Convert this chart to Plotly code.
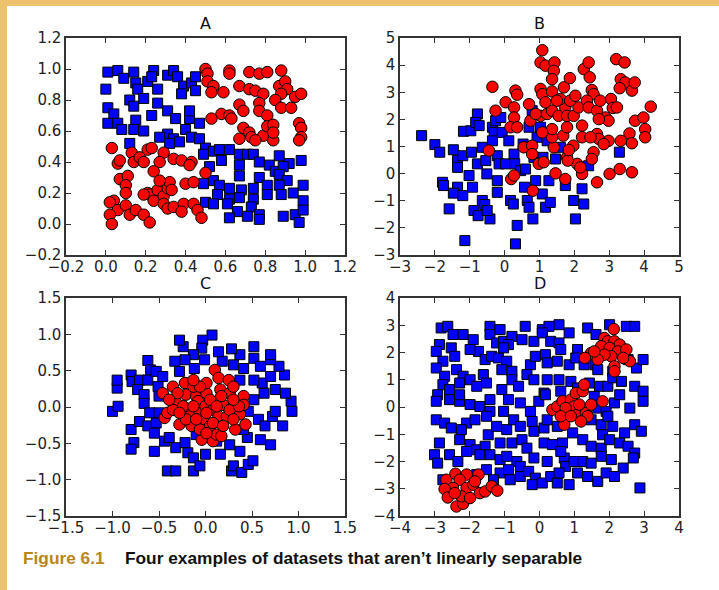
import plotly.graph_objects as go

# ---------------- Data ----------------
A_blue_x = [0.01,0.06,0.09,0.14,0.15,0.16,0.0,0.21,0.24,0.23,0.26,0.31,0.34,0.36,0.39,0.38,0.43,0.45,0.45,
            0.12,0.14,0.19,0.26,0.01,0.04,0.01,0.06,0.08,0.15,0.14,0.19,0.23,0.31,0.35,0.42,0.42,0.47,0.40,
            0.31,0.27,0.34,0.37,0.43,0.47,0.32,0.12,0.50,0.49,
            0.54,0.57,0.62,0.67,0.71,0.74,0.87,0.92,0.98,0.52,0.58,0.67,0.67,0.77,0.77,0.82,0.85,0.89,0.87,
            0.91,0.54,0.49,0.57,0.62,0.68,0.74,0.81,0.87,0.99,0.56,0.62,0.67,0.74,0.81,0.88,0.94,0.99,0.50,
            0.54,0.61,0.73,0.66,0.71,0.77,0.62,0.77,0.89,0.95,0.97,0.99]
A_blue_y = [0.98,0.99,0.94,0.98,0.91,0.87,0.87,0.92,0.99,0.95,0.87,0.96,0.99,0.95,0.89,0.84,0.91,0.95,0.86,
            0.80,0.76,0.81,0.78,0.75,0.71,0.65,0.65,0.61,0.67,0.61,0.60,0.70,0.73,0.68,0.68,0.73,0.65,0.61,
            0.58,0.56,0.55,0.53,0.56,0.55,0.52,0.52,0.49,0.45,
            0.47,0.48,0.48,0.45,0.45,0.45,0.44,0.39,0.41,0.37,0.41,0.38,0.31,0.40,0.30,0.38,0.34,0.37,0.32,
            0.28,0.28,0.26,0.25,0.23,0.22,0.23,0.25,0.25,0.25,0.19,0.16,0.17,0.16,0.19,0.19,0.20,0.15,0.14,
            0.13,0.13,0.11,0.08,0.05,0.06,0.04,0.03,0.05,0.06,0.01,0.09]
A_red_x = [0.50,0.51,0.51,0.54,0.53,0.59,0.62,0.62,0.67,0.72,0.72,0.77,0.81,0.75,0.79,0.88,0.87,0.90,0.91,
           0.88,0.95,0.98,0.85,0.88,0.93,0.67,0.69,0.77,0.77,0.81,0.58,0.62,0.63,0.53,0.69,0.72,0.67,0.73,
           0.79,0.84,0.75,0.81,0.84,0.97,0.98,0.98,0.97,0.84,
           0.03,0.06,0.07,0.13,0.14,0.17,0.19,0.21,0.23,0.29,0.27,0.34,0.38,0.43,0.42,0.24,0.50,0.07,0.11,
           0.10,0.10,0.04,0.02,0.06,0.02,0.03,0.10,0.12,0.15,0.19,0.22,0.21,0.22,0.24,0.26,0.29,0.31,0.32,
           0.33,0.29,0.31,0.34,0.40,0.39,0.38,0.44,0.46,0.48,0.44,0.19,0.27]
A_red_y = [1.00,0.97,0.92,0.89,0.85,0.85,0.99,0.97,0.89,0.87,0.98,0.97,0.98,0.86,0.84,0.99,0.89,0.92,0.87,
           0.84,0.82,0.84,0.80,0.75,0.75,0.77,0.73,0.78,0.73,0.70,0.71,0.70,0.68,0.68,0.62,0.59,0.55,0.56,
           0.57,0.54,0.54,0.63,0.64,0.65,0.62,0.56,0.54,0.59,
           0.49,0.39,0.41,0.46,0.40,0.43,0.40,0.48,0.49,0.46,0.40,0.42,0.41,0.40,0.38,0.34,0.33,0.29,0.31,
           0.25,0.20,0.15,0.14,0.09,0.06,0.00,0.12,0.06,0.09,0.06,0.01,0.20,0.19,0.15,0.22,0.18,0.23,0.27,
           0.22,0.13,0.10,0.11,0.26,0.13,0.08,0.13,0.09,0.04,0.27,0.19,0.28]

B_blue_x = [-2.38,-2.0,-1.86,-1.78,-1.75,-1.59,-1.47,-1.35,-1.35,-1.2,-1.35,-1.47,-1.2,-1.18,-1.14,-0.97,
            -0.95,-1.02,-0.92,-0.78,-0.83,-0.73,-0.78,-0.64,-0.54,-0.51,-0.88,-0.76,-0.64,-0.57,-0.42,-0.35,
            -0.26,-0.30,-0.35,-0.21,-0.16,-0.21,-0.21,-0.50,-0.11,-0.07,0.03,0.12,0.17,0.25,0.27,0.29,0.36,
            0.31,0.46,0.53,0.57,0.60,0.65,0.70,0.79,0.84,0.81,0.89,0.93,1.08,1.10,1.17,1.27,1.31,1.46,1.74,
            1.98,2.03,2.22,2.27,2.41,3.29,1.03,0.70,1.22,1.60]
B_blue_y = [1.40,1.07,0.79,-0.32,-0.44,-1.30,0.88,0.48,0.23,0.66,-0.50,-0.72,-0.81,1.56,-2.47,1.58,
            0.79,-0.07,-0.50,2.20,1.89,1.77,0.36,0.97,0.48,-0.01,-1.36,-1.55,-0.99,-1.14,-1.67,1.71,
            1.95,1.52,1.21,0.66,0.36,-0.26,-0.69,-1.36,2.07,1.52,0.36,1.21,-0.99,-1.12,0.72,0.36,-1.91,
            -2.59,0.11,1.09,-0.50,0.17,-0.99,-1.24,2.32,0.60,-1.67,-0.26,1.34,-0.75,0.60,-1.24,-0.26,-1.06,0.54,-0.44,
            -0.99,-1.67,-0.56,-1.12,0.29,0.79,1.71,1.71,1.21,0.97]
B_red_x = [-0.35,-0.26,0.03,0.31,0.36,0.27,0.27,0.17,0.36,-0.45,0.19,0.27,0.55,0.79,0.79,0.98,1.12,0.81,
           1.46,1.74,2.22,2.65,3.01,3.30,3.65,1.08,1.03,1.17,1.43,1.41,1.36,1.03,1.08,1.36,1.70,1.87,2.27,
           2.41,2.44,2.50,2.55,3.20,3.44,3.33,3.46,3.30,3.65,3.73,3.05,3.10,3.22,2.89,2.98,3.74,3.98,4.19,
           4.03,4.03,3.58,3.65,3.33,2.98,2.65,2.70,2.84,2.55,2.50,2.08,2.17,1.97,1.79,1.81,1.84,1.68,1.41,
           1.36,1.36,1.08,1.03,0.74,0.89,1.22,1.36,1.55,1.74,1.79,1.79,1.98,2.22,2.12,2.36,2.41,2.65,2.74,
           2.22,2.46,2.70,1.60,1.88,2.03,1.17,1.50,0.70]
B_red_y = [3.20,2.32,2.63,3.06,2.91,2.44,2.07,1.71,1.71,0.85,-0.20,-0.07,0.97,1.03,0.72,0.36,0.42,-0.63,
           0.01,-0.20,-0.01,-0.32,-0.01,0.17,0.05,4.55,4.10,3.98,4.10,3.79,3.48,3.12,2.93,3.03,3.18,3.52,3.85,
           4.10,3.55,3.08,2.93,4.22,4.10,3.48,3.36,3.15,3.06,3.36,2.75,2.42,2.44,2.07,1.95,1.95,2.07,2.47,
           1.64,1.34,1.48,1.12,1.21,1.21,1.46,1.28,1.09,0.79,0.54,0.36,0.23,1.03,0.60,0.48,0.87,1.40,0.97,
           1.34,1.64,1.52,2.13,1.95,2.20,2.20,2.32,2.13,2.44,2.13,1.71,2.13,1.77,2.44,2.69,2.44,2.32,2.69,
           1.34,1.34,2.01,2.75,2.69,2.87,2.63,2.69,2.56]

C_blue_x = [-1.0,-0.94,-0.95,-0.95,-0.80,-0.79,-0.71,-0.73,-0.66,-0.62,-0.59,-0.62,-0.53,-0.46,-0.51,-0.50,
            -0.66,-0.60,-0.80,-0.71,-0.62,-0.53,-0.50,-0.77,-0.80,-0.55,-0.55,-0.44,-0.39,-0.41,-0.32,-0.32,
            -0.22,-0.19,-0.13,-0.13,-0.06,0.0,0.16,0.28,0.30,0.39,0.37,0.46,0.51,0.26,0.45,0.59,0.70,0.57,
            0.64,0.72,0.83,0.75,0.93,0.92,0.86,0.75,0.63,0.61,0.52,0.70,0.85,0.79,0.70,0.70,0.52,0.52,0.59,
            0.37,0.30,0.28,0.18,0.14,0.07,-0.03,-0.04,-0.13,-0.24,-0.28,-0.33,-0.22,-0.12,-0.01,-0.28,0.41,
            0.37,0.41,0.46,0.52,0.12,-0.10]
C_blue_y = [-0.06,0.01,0.26,0.37,0.44,0.35,0.37,0.24,0.17,0.64,0.51,0.37,0.49,0.42,0.28,0.15,
            0.05,-0.08,-0.31,-0.20,-0.26,-0.22,-0.08,-0.49,-0.58,-0.61,-0.36,-0.47,-0.42,-0.88,-0.88,-0.56,
            -0.49,-0.63,-0.70,-0.88,-0.81,-0.65,-0.65,-0.88,-0.81,-0.90,-0.61,-0.79,-0.74,-0.52,-0.42,-0.45,-0.52,-0.17,
            -0.26,-0.13,-0.26,-0.06,-0.06,0.08,0.19,0.24,0.19,0.33,0.37,0.42,0.44,0.56,0.65,0.72,0.83,0.67,0.56,
            0.72,0.58,0.80,0.63,0.76,0.99,0.92,0.81,0.72,0.83,0.92,0.63,0.65,0.53,0.65,0.49,0.53,
            0.37,-0.31,-0.06,0.10,-0.47,-0.38]
C_red_x = [-0.46,-0.44,-0.41,-0.35,-0.31,-0.28,-0.22,-0.21,-0.19,-0.17,-0.15,-0.10,-0.08,-0.06,-0.04,0.0,
           0.01,-0.01,0.05,0.08,0.08,0.10,0.14,0.16,0.14,0.12,0.17,0.19,0.23,0.25,0.26,0.30,0.32,0.32,0.37,
           0.41,0.41,0.43,-0.13,-0.30,0.01,-0.06,0.05,-0.24,-0.13,-0.35,0.26,0.30,0.08,-0.21,-0.06,0.01,0.17,
           0.12,-0.39,-0.28,0.19,0.36,-0.10,0.01,-0.13,0.30]
C_red_y = [0.19,-0.15,-0.08,0.28,0.05,-0.24,0.33,0.17,-0.04,-0.13,-0.26,0.15,0.08,-0.08,-0.45,0.01,
           0.19,-0.17,-0.26,-0.04,-0.47,0.51,0.40,0.24,-0.13,-0.38,-0.40,0.03,-0.13,0.37,0.19,0.28,-0.01,-0.31,-0.10,
           0.15,0.03,-0.24,0.28,0.19,0.33,0.28,0.10,0.01,0.01,-0.04,-0.04,-0.17,-0.22,-0.17,-0.31,-0.36,0.15,
           0.01,0.10,-0.08,-0.26,0.01,-0.17,-0.08,0.37,0.10]

D_blue_x = [-2.82,-2.63,-1.42,-1.13,-0.41,0.08,0.27,0.56,0.85,1.38,2.01,2.49,2.73,
            -2.87,-2.48,-2.19,-1.90,-1.75,-1.42,-1.23,-1.03,-0.79,-0.89,-0.50,-0.16,0.08,0.32,0.56,0.61,1.62,
            -2.96,-2.77,-2.53,-2.43,-1.99,-1.56,-1.37,-1.18,-1.03,-0.94,-0.26,-0.12,0.17,0.22,0.51,0.85,1.09,
            1.04,1.28,1.59,1.67,2.10,2.54,2.78,2.97,
            -2.96,-2.72,-2.38,-2.19,-2.77,-2.58,-2.29,-1.99,-1.80,-1.61,-1.52,-1.08,-1.08,-0.79,-0.79,-0.60,
            -0.36,-0.16,0.13,0.22,0.56,0.90,1.43,1.72,1.96,2.10,2.35,2.73,2.97,
            -2.92,-2.96,-2.58,-2.29,-2.29,-1.99,-1.71,-1.42,-1.42,-1.03,-0.89,-0.55,-0.26,-0.02,0.17,1.67,1.91,
            2.15,2.30,2.59,2.97,1.57,
            -2.96,-2.72,-2.53,-2.09,-2.24,-1.85,-1.52,-1.47,-1.23,-0.94,-0.74,-0.55,-0.21,-0.16,0.13,0.22,0.51,
            0.95,1.48,1.77,1.96,2.10,1.81,2.44,2.73,2.92,
            -2.87,-2.29,-1.99,-1.80,-1.56,-1.13,-0.79,-0.50,-0.36,0.13,0.37,0.66,1.24,1.48,1.77,2.01,2.30,2.54,2.73,
            -3.01,-2.92,-2.58,-2.34,-2.09,-1.71,-1.42,-1.13,-0.94,-0.65,-0.55,-0.16,0.22,0.71,0.75,0.99,1.24,
            1.48,1.77,2.06,2.40,2.69,0.61,
            -1.13,-0.89,-0.84,-0.55,-0.31,-0.12,-0.21,0.08,0.32,0.51,0.85,1.09,1.38,1.67,1.91,2.15,2.88,0.56,
            -1.32,-1.52,-1.80,-2.77,0.61,1.09]
D_blue_y = [2.90,2.96,2.96,2.84,2.96,2.84,2.96,3.02,2.72,2.90,3.02,2.96,2.96,
            2.29,2.66,2.66,2.47,2.04,2.66,2.35,2.41,2.59,2.29,2.47,2.41,2.72,2.41,2.35,2.11,2.66,
            2.04,1.68,2.17,1.86,2.11,1.74,1.86,1.80,2.17,1.68,1.55,1.86,1.92,1.62,1.68,1.55,2.11,
            1.80,1.55,1.55,1.37,1.31,1.74,1.43,1.74,
            1.43,1.13,1.37,1.13,0.82,0.64,0.88,1.00,0.76,1.19,0.88,1.37,0.64,1.31,1.00,0.76,
            1.19,1.00,0.51,1.00,1.00,0.94,0.88,0.76,0.76,1.07,0.94,0.76,0.58,
            0.45,0.21,0.27,0.21,0.45,0.09,0.02,0.27,-0.16,-0.16,0.27,0.15,-0.16,0.21,0.45,-0.04,-0.16,
            0.15,0.45,-0.04,0.21,0.39,
            -0.47,-0.59,-0.77,-0.59,-0.83,-0.47,-0.34,-1.02,-0.71,-0.83,-0.47,-0.71,-0.53,-0.89,-0.77,-0.47,-0.71,
            -0.95,-0.47,-0.65,-0.34,-0.71,-1.02,-0.95,-0.65,-0.89,
            -1.32,-1.20,-1.38,-1.57,-1.44,-1.32,-1.32,-1.20,-1.51,-1.32,-1.38,-1.32,-1.20,-1.44,-1.51,-1.20,-1.32,-1.44,-1.69,
            -1.75,-2.06,-1.75,-2.00,-1.63,-1.75,-1.75,-1.93,-1.81,-2.00,-2.18,-1.87,-2.00,-1.87,-2.18,-2.00,-2.00,
            -2.06,-1.81,-1.93,-2.24,-1.87,-1.63,
            -2.42,-2.30,-2.67,-2.55,-2.36,-2.61,-2.85,-2.79,-2.55,-2.79,-2.85,-2.42,-2.55,-2.73,-2.42,-2.55,-2.97,-2.42,
            -2.67,-2.30,-2.48,-2.67,0.58,0.70]
D_red_x = [2.13,1.86,1.96,2.15,2.30,1.77,2.01,2.25,2.49,2.59,2.06,1.86,1.48,1.30,2.15,2.15,1.67,2.40,1.57,
           0.37,0.51,0.66,0.71,0.80,0.90,0.99,1.04,1.09,1.24,1.28,1.33,1.38,1.48,1.81,0.75,1.14,0.61,0.90,1.19,
           -2.67,-2.41,-2.09,-1.75,-2.29,-2.48,-2.72,-2.63,-2.38,-2.19,-2.09,-1.90,-1.71,-1.56,-1.37,-1.21,
           -2.24,-1.99,-2.43,-1.85]
D_red_y = [2.86,2.53,2.41,2.41,2.29,2.23,2.17,2.04,2.11,1.68,1.86,1.92,1.98,1.80,1.49,1.31,1.74,1.80,2.04,
           -0.10,0.02,0.21,-0.65,-0.22,0.27,0.02,0.51,-0.28,0.58,0.82,-0.22,-0.34,0.09,0.21,-0.04,0.09,-0.34,-0.34,-0.53,
           -2.67,-2.45,-2.48,-2.48,-2.67,-2.97,-3.01,-3.32,-3.65,-3.55,-2.97,-2.85,-3.16,-3.10,-2.91,-3.07,
           -3.28,-3.34,-3.16,-2.73]

titles = ["A", "B", "C", "D"]
caption_label = "Figure 6.1"
caption_text = "Four examples of datasets that aren’t linearly separable"

# ---------------- Figure ----------------
W, H = 719, 590
fig = go.Figure()

def fx(px):
    return px / W

def fy(py):
    return 1 - py / H

boxes = [  # (x0, x1, ytop, ybottom) in pixels
    (66, 345, 38, 255),
    (400, 679, 38, 255),
    (66, 345, 298, 516),
    (400, 679, 298, 516),
]
ranges = [
    ([-0.2, 1.2], [-0.2, 1.2], 0.2, ".1f"),
    ([-3, 5], [-3, 5], 1, "d"),
    ([-1.5, 1.5], [-1.5, 1.5], 0.5, ".1f"),
    ([-4, 4], [-4, 4], 1, "d"),
]
data = [
    (A_blue_x, A_blue_y, A_red_x, A_red_y),
    (B_blue_x, B_blue_y, B_red_x, B_red_y),
    (C_blue_x, C_blue_y, C_red_x, C_red_y),
    (D_blue_x, D_blue_y, D_red_x, D_red_y),
]

tickfont = dict(family="DejaVu Sans", size=15, color="#222222")

for i, (bx, by, rx, ry) in enumerate(data):
    n = "" if i == 0 else str(i + 1)
    fig.add_trace(go.Scatter(x=bx, y=by, mode="markers", xaxis="x" + n, yaxis="y" + n,
                             marker=dict(symbol="square", size=10, color="#0000ff",
                                         line=dict(color="black", width=1)),
                             showlegend=False, hoverinfo="skip"))
    fig.add_trace(go.Scatter(x=rx, y=ry, mode="markers", xaxis="x" + n, yaxis="y" + n,
                             marker=dict(symbol="circle", size=11.5, color="#ff0000",
                                         line=dict(color="black", width=1)),
                             showlegend=False, hoverinfo="skip"))
    x0, x1, yt, yb = boxes[i]
    xr, yr, dt, fmt = ranges[i]
    common = dict(showline=True, linecolor="#333333", linewidth=1.5, mirror="allticks",
                  ticks="inside", ticklen=5, tickwidth=1, tickcolor="#333333",
                  showgrid=False, zeroline=False, tickfont=tickfont, automargin=False,
                  dtick=dt, tick0=xr[0], tickformat=fmt, fixedrange=True)
    fig.update_layout({
        "xaxis" + n: dict(domain=[fx(x0), fx(x1)], range=xr, anchor="y" + n,
                          ticklabelstandoff=-3, **common),
        "yaxis" + n: dict(domain=[fy(yb), fy(yt)], range=yr, anchor="x" + n, **common),
    })
    fig.add_annotation(text=titles[i], xref="paper", yref="paper",
                       x=fx((x0 + x1) / 2), y=fy(yt - 3), xanchor="center", yanchor="bottom",
                       showarrow=False, font=dict(family="DejaVu Sans", size=16, color="#111111"))

# white page area on the yellow paper
fig.add_shape(type="rect", xref="paper", yref="paper", x0=fx(7), x1=1.01, y0=-0.01, y1=fy(6),
              fillcolor="white", line=dict(width=0), layer="below")

fig.add_annotation(text="<b>" + caption_label + "</b>", xref="paper", yref="paper",
                   x=fx(21), y=fy(558), xanchor="left", yanchor="middle", showarrow=False,
                   font=dict(family="Liberation Sans", size=17.3, color="#b8861b"))
fig.add_annotation(text="<b>" + caption_text + "</b>", xref="paper", yref="paper",
                   x=fx(123), y=fy(558), xanchor="left", yanchor="middle", showarrow=False,
                   font=dict(family="Liberation Sans", size=17.3, color="#111111"))

fig.update_layout(width=W, height=H, margin=dict(l=0, r=0, t=0, b=0, autoexpand=False),
                  paper_bgcolor="#ecc26c", plot_bgcolor="white")

fig.write_html("out.html", config={"displayModeBar": False},
               post_script="document.body.style.margin='0';document.body.style.overflow='hidden';")
